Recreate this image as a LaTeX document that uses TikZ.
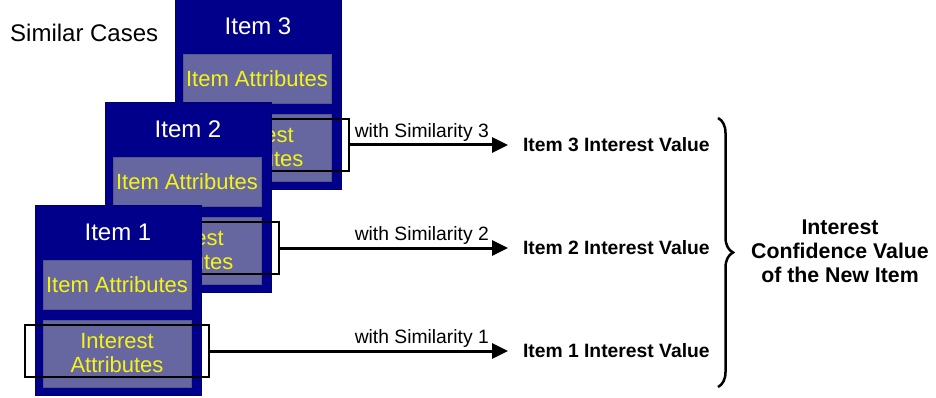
\documentclass[tikz,border=0pt]{standalone}
\usepackage{fontspec}
\setmainfont{Liberation Sans}
\usepackage{tikz}
\usetikzlibrary{arrows.meta,decorations.pathreplacing}
\definecolor{cardblue}{RGB}{0,0,138}
\definecolor{boxgray}{RGB}{102,102,160}
\definecolor{attryellow}{RGB}{245,245,20}
\tikzset{
  card/.style={fill=cardblue,draw=cardblue!80!black,minimum width=166pt,minimum height=190pt,inner sep=0pt},
  inbox/.style={fill=boxgray,draw=boxgray!85!black,minimum width=148pt,inner sep=0pt,
    text=attryellow,font=\fontsize{22}{24}\selectfont,align=center},
  frame/.style={draw,line width=2.5pt,minimum width=184pt,minimum height=52pt,inner sep=0pt},
  arr/.style={line width=3pt,-{Triangle[length=16pt,width=15pt]}},
  val/.style={anchor=west,font=\fontsize{19.3}{22}\selectfont\bfseries,inner xsep=0pt,outer xsep=15pt},
  simlab/.style={anchor=south east,font=\fontsize{19.3}{22}\selectfont,inner sep=1pt}
}
% one stacked case card, #1,#2 = top left corner, #3 = case number
\newcommand{\itemcard}[3]{
\node[card] (card#3) at (#1+83,#2+95) {};
\node[text=white,font=\fontsize{24}{26}\selectfont] (title#3) at (#1+83,#2+27) {Item #3};
\node[inbox,minimum height=49pt] (attr#3) at (#1+82,#2+79.5) {Item Attributes};
\node[inbox,minimum height=67pt] (int#3) at (#1+82,#2+148.5) {Interest\\Attributes};
\node[frame] (frame#3) at (#1+82,#2+146) {};
}

\begin{document}
\begin{tikzpicture}[x=1pt,y=-1pt]
\useasboundingbox (0,0) rectangle (936,398);
\node[anchor=west,inner sep=0pt,font=\fontsize{24}{26}\selectfont] (cases) at (10,33) {Similar Cases};

\itemcard{175}{-1}{3}
\itemcard{105}{102}{2}
\itemcard{35}{205}{1}

\coordinate (vx) at (508,0);
\foreach \i in {1,2,3}{
  \node[val] (val\i) at (frame\i.east -| vx) {Item \i\ Interest Value};
  \draw[arr] (frame\i.east) -- (val\i.west);
  \node[simlab] (sim\i) at ([xshift=-18pt,yshift=2pt]val\i.west) {with Similarity \i};
}

\draw[line width=2.5pt,decorate,decoration={brace,amplitude=15pt}] (718,118) -- (718,387) coordinate[midway] (bmid);
\node[font=\fontsize{21.3}{24}\selectfont\bfseries,align=center] (conf) at (840,251) {Interest\\Confidence Value\\of the New Item};
\end{tikzpicture}
\end{document}
